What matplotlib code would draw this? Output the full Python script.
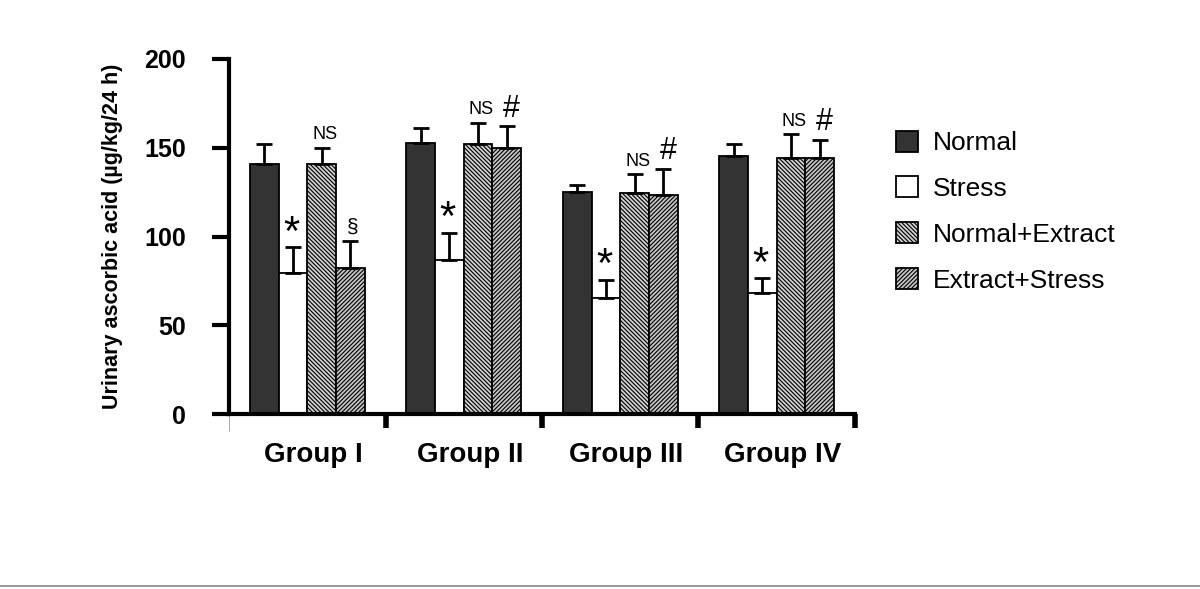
import numpy as np
import matplotlib
matplotlib.use("Agg")
import matplotlib.pyplot as plt
from matplotlib.lines import Line2D
from matplotlib.transforms import blended_transform_factory

plt.rcParams.update({
    'font.family': ['Liberation Sans', 'DejaVu Sans'],
    'hatch.linewidth': 0.8,
})

# data
groups = ['Group I', 'Group II', 'Group III', 'Group IV']
series = ['Normal', 'Stress', 'Normal+Extract', 'Extract+Stress']
normal = [141, 152.5, 125, 145.5]
normal_err = [11, 8.5, 4, 6.5]
stress = [79.5, 87, 65.5, 68]
stress_err = [14.5, 15, 10, 8.5]
norm_extract = [141, 152, 124.5, 144]
norm_extract_err = [9, 12, 10.5, 13.5]
extract_stress = [82.5, 150, 123.5, 144]
extract_stress_err = [15, 12, 14.5, 10.5]
# significance marks above each bar (per series, per group)
marks_stress = ['*', '*', '*', '*']
marks_ne = ['NS', 'NS', 'NS', 'NS']
marks_es = ['§', '#', '#', '#']

values = [normal, stress, norm_extract, extract_stress]
errors = [normal_err, stress_err, norm_extract_err, extract_stress_err]
faces = ['#333333', 'white', '#d0d0d0', '#c4c4c4']
hatches = [None, None, '\\' * 8, '/' * 8]

fig = plt.figure(figsize=(12, 5.89), dpi=100)
ax = fig.add_axes([229 / 1200, 175 / 589, 626 / 1200, 355 / 589])

w = 0.183
x = np.arange(len(groups)) + 0.5
bars = []
for k, (vals, errs) in enumerate(zip(values, errors)):
    b = ax.bar(x + (k - 1.5) * w, vals, w, color=faces[k], edgecolor='black',
               linewidth=1.3, hatch=hatches[k], label=series[k], zorder=2)
    ax.errorbar(x + (k - 1.5) * w, vals, yerr=[np.zeros(len(vals)), errs],
                fmt='none', ecolor='black', elinewidth=2, capsize=6, capthick=2,
                zorder=3)
    bars.append(b)

# annotations
for i in range(len(groups)):
    xs = x[i] - 0.5 * w
    ax.text(xs - 0.01, stress[i] + stress_err[i] + 1.5, marks_stress[i],
            ha='center', va='baseline', fontsize=30)
    xn = x[i] + 0.5 * w
    ax.text(xn + 0.02, norm_extract[i] + norm_extract_err[i] + 5, marks_ne[i],
            ha='center', va='baseline', fontsize=13)
    xe = x[i] + 1.5 * w
    if marks_es[i] == '#':
        ax.text(xe + 0.03, extract_stress[i] + extract_stress_err[i] + 5.5, marks_es[i],
                ha='center', va='baseline', fontsize=22)
    else:
        ax.text(xe + 0.015, extract_stress[i] + extract_stress_err[i] + 4.5, marks_es[i],
                ha='center', va='baseline', fontsize=15)

ax.set_xlim(0, 4)
ax.set_ylim(0, 200)
ax.set_yticks([0, 50, 100, 150, 200])
ax.set_yticklabels(['0', '50', '100', '150', '200'], fontsize=18, fontweight='bold')
ax.set_xticks([1, 2, 3, 4])
ax.set_xticklabels([])
ax.set_xticks([0], minor=True)
ax.tick_params(axis='y', length=12, width=3, pad=19)
ax.tick_params(axis='x', which='major', length=10, width=4, direction='out')
ax.tick_params(axis='x', which='minor', length=12, width=0.6, color='#999999')

for s in ['top', 'right']:
    ax.spines[s].set_visible(False)
for s in ['left', 'bottom']:
    ax.spines[s].set_linewidth(3)

trans = blended_transform_factory(ax.transData, ax.transAxes)
for i, g in enumerate(groups):
    ax.text(x[i] + 0.04, -0.115, g, transform=trans, ha='center', va='center',
            fontsize=20, fontweight='bold')

ax.set_ylabel('Urinary ascorbic acid (µg/kg/24 h)', fontsize=15.5, fontweight='bold')
ax.yaxis.set_label_coords(-0.17, 0.5)

fig.legend(handles=bars, labels=series, loc='upper left',
           bbox_to_anchor=(885 / 1200, 1 - 120 / 589), frameon=False,
           fontsize=19, handlelength=0.85, handleheight=0.85, handletextpad=0.55,
           labelspacing=0.8, borderaxespad=0)

fig.add_artist(Line2D([0, 1], [3.5 / 589, 3.5 / 589], color='#888888', linewidth=1.2))

fig.savefig('out.png', dpi=100, facecolor='white')
